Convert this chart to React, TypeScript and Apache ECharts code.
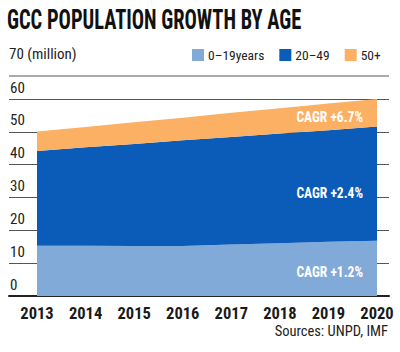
import React, { useEffect, useRef } from "react";
import * as echarts from "echarts";

const years = ["2013", "2014", "2015", "2016", "2017", "2018", "2019", "2020"];
const young = [15.3, 15.3, 15.2, 15.2, 15.7, 16.1, 16.5, 16.8];
const middle = [28.9, 30.0, 31.1, 32.2, 32.7, 33.4, 34.0, 34.8];
const older = [5.9, 6.2, 6.6, 6.9, 7.4, 7.7, 8.1, 8.4];
const seriesNames = ["0–19years", "20–49", "50+"];
const cagrLabels = ["CAGR +1.2%", "CAGR +2.4%", "CAGR +6.7%"];
const yTicks = [0, 10, 20, 30, 40, 50, 60];

const COND = "'Roboto Condensed', 'Open Sans Condensed', sans-serif";

export default function App() {
  const ref = useRef<HTMLDivElement>(null);
  useEffect(() => {
    const chart = echarts.init(ref.current!, null, { renderer: "svg" });
    const colors = ["#82aad9", "#0a5cb8", "#fbb064"];
    const cagr = (text: string, y: number) => ({
      type: "text",
      x: 363,
      y,
      z: 10,
      scaleX: 0.9,
      style: {
        text,
        align: "right",
        verticalAlign: "middle",
        fontFamily: COND,
        fontSize: 15,
        fontWeight: "bold",
        fill: "#fff",
      },
    });
    chart.setOption({
      animation: false,
      backgroundColor: "#ffffff",
      color: colors,
      legend: {
        left: 192,
        top: 48,
        width: 300,
        padding: 0,
        itemWidth: 12,
        itemHeight: 12,
        itemGap: 15,
        icon: "rect",
        data: seriesNames,
        textStyle: { fontFamily: COND, fontSize: 13.5, color: "#222", padding: [0, 0, 0, -1] },
      },
      grid: [
        { left: 9, right: 11, top: 99, bottom: 56 },
        { left: 37, right: 23, top: 99, bottom: 56 },
      ],
      xAxis: [
        {
          gridIndex: 0,
          type: "value",
          min: 0,
          max: 1,
          axisLabel: { show: false },
          axisTick: { show: false },
          splitLine: { show: false },
          axisLine: { show: true, lineStyle: { color: "#222", width: 2 } },
        },
        {
          gridIndex: 1,
          type: "category",
          boundaryGap: false,
          data: years,
          axisLine: { show: false },
          axisTick: { show: false },
          axisLabel: {
            interval: 0,
            fontFamily: COND,
            fontSize: 16.5,
            fontWeight: "bold",
            color: "#1a1a1a",
            margin: 9,
          },
        },
      ],
      yAxis: [
        {
          gridIndex: 0,
          type: "value",
          min: yTicks[0],
          max: yTicks[yTicks.length - 1],
          interval: 10,
          axisLine: { show: false },
          axisTick: { show: false },
          splitLine: { show: true, lineStyle: { color: "#555", width: 1 } },
          axisLabel: {
            inside: true,
            margin: 1,
            fontFamily: COND,
            fontSize: 15,
            color: "#222",
            verticalAlign: "bottom",
            padding: [0, 0, 4, 0],
          },
        },
        {
          gridIndex: 1,
          type: "value",
          min: 0,
          max: 60,
          show: false,
          splitLine: { show: false },
        },
      ],
      series: [young, middle, older].map((d, i) => ({
        name: seriesNames[i],
        type: "line",
        xAxisIndex: 1,
        yAxisIndex: 1,
        stack: "pop",
        data: d,
        symbol: "none",
        lineStyle: { width: 0 },
        areaStyle: { color: colors[i], opacity: 1 },
        z: 3,
      })),
      graphic: [
        {
          type: "text",
          x: 7,
          y: 19,
          scaleX: 0.73,
          style: {
            text: "GCC POPULATION GROWTH BY AGE",
            fontFamily: COND,
            fontSize: 28,
            fontWeight: "bold",
            verticalAlign: "middle",
            fill: "#111",
          },
        },
        {
          type: "text",
          x: 9,
          y: 54,
          style: {
            text: "70 (million)",
            fontFamily: COND,
            fontSize: 15,
            verticalAlign: "middle",
            fill: "#222",
          },
        },
        {
          type: "line",
          shape: { x1: 9, y1: 76, x2: 389, y2: 76 },
          style: { stroke: "#555", lineWidth: 1 },
        },
        cagr(cagrLabels[2], 117),
        cagr(cagrLabels[1], 193),
        cagr(cagrLabels[0], 272),
        {
          type: "text",
          x: 388,
          y: 331,
          style: {
            text: "Sources: UNPD, IMF",
            align: "right",
            verticalAlign: "middle",
            fontFamily: COND,
            fontSize: 14.5,
            fill: "#222",
          },
        },
      ],
    });
    return () => chart.dispose();
  }, []);
  return (
    <div
      ref={ref}
      style={{ position: "absolute", left: 0, top: 0, width: 400, height: 352 }}
    />
  );
}
